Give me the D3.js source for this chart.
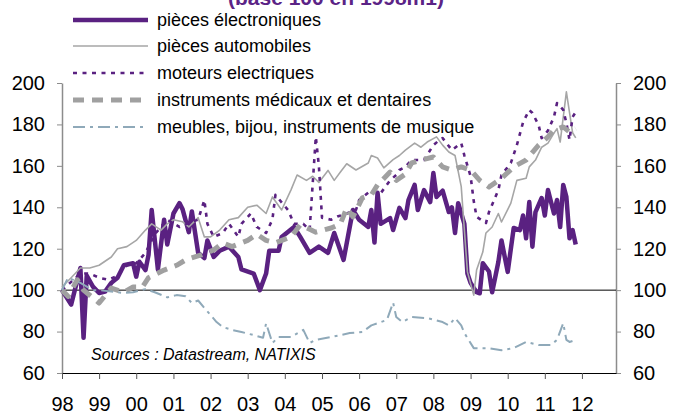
<!DOCTYPE html>
<html>
<head>
<meta charset="utf-8">
<script src="https://cdn.jsdelivr.net/npm/d3@7"></script>
<style>
    body { margin: 0; background: #fff; }
    svg { font-family: "Liberation Sans", Arial, sans-serif; display: block; }
</style>
</head>
<body>
<div id="chart"></div>
<script>
// --- data (monthly index values, base 100 in 1998) ---
const titleText = "(base 100 en 1998m1)";
const sourceText = "Sources : Datastream, NATIXIS";

const years = [1998, 1999, 2000, 2001, 2002, 2003, 2004, 2005, 2006, 2007, 2008, 2009, 2010, 2011, 2012];
const yearLabels = ["98", "99", "00", "01", "02", "03", "04", "05", "06", "07", "08", "09", "10", "11", "12"];
const yTicks = [60, 80, 100, 120, 140, 160, 180, 200];

const seriesNames = [
    "pièces électroniques",
    "pièces automobiles",
    "moteurs electriques",
    "instruments médicaux et dentaires",
    "meubles, bijou, instruments de musique"
];

const elecData = [
    ["1998-01", 100], ["1998-04", 93], ["1998-07", 110.7], ["1998-08", 77], ["1998-09", 107], ["1998-11", 101.7],
    ["1999-01", 98.6], ["1999-03", 99.3], ["1999-05", 103.5], ["1999-07", 106], ["1999-09", 112], ["1999-12", 113],
    ["2000-01", 106.5], ["2000-02", 113.7], ["2000-04", 109.7], ["2000-05", 117], ["2000-06", 138.7], ["2000-08", 110],
    ["2000-10", 134], ["2000-11", 122], ["2001-01", 137], ["2001-03", 142], ["2001-04", 139], ["2001-06", 128],
    ["2001-07", 138], ["2001-09", 118], ["2001-11", 115.5], ["2001-12", 124], ["2002-02", 116], ["2002-04", 119],
    ["2002-07", 121], ["2002-10", 116], ["2002-11", 110], ["2003-03", 108], ["2003-05", 100], ["2003-07", 108],
    ["2003-08", 119], ["2003-11", 119], ["2003-12", 125.7], ["2004-04", 130.5], ["2004-06", 125.7], ["2004-09", 118],
    ["2004-12", 121], ["2005-03", 118], ["2005-05", 127.6], ["2005-08", 114.6], ["2005-11", 138.7], ["2006-01", 134],
    ["2006-04", 130.5], ["2006-05", 138.7], ["2006-06", 123], ["2006-07", 147], ["2006-08", 132], ["2006-11", 134.8],
    ["2006-12", 129], ["2007-02", 139.7], ["2007-04", 134.8], ["2007-05", 143.5], ["2007-07", 150.8], ["2007-08", 138.7],
    ["2007-10", 148.3], ["2007-12", 142.5], ["2008-01", 156.5], ["2008-02", 145], ["2008-04", 148], ["2008-06", 137.7],
    ["2008-07", 140], ["2008-08", 127.6], ["2008-09", 142], ["2008-11", 132], ["2008-12", 108], ["2009-01", 103.5],
    ["2009-03", 99], ["2009-04", 98.5], ["2009-05", 113], ["2009-07", 109], ["2009-08", 99], ["2009-10", 113.6],
    ["2009-11", 124], ["2010-01", 108.8], ["2010-03", 130], ["2010-05", 129], ["2010-06", 136], ["2010-07", 125],
    ["2010-08", 142.5], ["2010-09", 121], ["2010-10", 137.7], ["2010-12", 144.5], ["2011-01", 136], ["2011-02", 148.3],
    ["2011-04", 137], ["2011-05", 143.5], ["2011-06", 130.5], ["2011-07", 150.8], ["2011-08", 145], ["2011-09", 125],
    ["2011-10", 129], ["2011-11", 122]
];

const autoData = [
    ["1998-01", 101.5], ["1998-04", 106], ["1998-07", 110.7], ["1998-10", 110.7], ["1999-01", 112], ["1999-05", 116],
    ["1999-07", 120], ["1999-10", 121], ["2000-01", 124], ["2000-04", 129], ["2000-06", 132], ["2000-09", 129],
    ["2000-11", 132], ["2001-01", 134], ["2001-04", 133], ["2001-06", 130.5], ["2001-09", 135], ["2001-11", 125.7],
    ["2002-01", 125.7], ["2002-04", 129], ["2002-07", 134], ["2002-10", 135], ["2003-01", 140], ["2003-04", 141],
    ["2003-07", 137], ["2003-09", 145], ["2003-12", 138.7], ["2004-03", 148.3], ["2004-05", 155.6], ["2004-08", 153],
    ["2004-10", 155], ["2004-12", 152], ["2005-03", 157.8], ["2005-05", 153], ["2005-07", 157], ["2005-09", 161],
    ["2005-12", 158], ["2006-04", 161.4], ["2006-05", 165], ["2006-07", 163.8], ["2006-09", 159], ["2006-12", 163],
    ["2007-02", 165], ["2007-04", 167.6], ["2007-07", 171], ["2007-09", 169], ["2007-11", 171.5], ["2008-02", 174],
    ["2008-04", 170], ["2008-06", 166.7], ["2008-08", 165], ["2008-10", 150], ["2008-11", 129], ["2008-12", 108.8],
    ["2009-02", 97.6], ["2009-03", 109.7], ["2009-05", 118.4], ["2009-06", 127.6], ["2009-08", 130.5], ["2009-10", 137],
    ["2009-11", 132.9], ["2010-02", 142], ["2010-04", 153], ["2010-07", 154], ["2010-08", 159.5], ["2010-10", 162.8],
    ["2010-12", 169], ["2011-02", 171], ["2011-04", 175.8], ["2011-05", 178], ["2011-06", 171.5], ["2011-08", 195.7],
    ["2011-10", 176], ["2011-11", 173.5]
];

const moteursData = [
    ["1998-01", 100], ["1998-04", 104], ["1998-07", 108], ["1998-10", 108], ["1999-01", 106], ["1999-04", 105],
    ["1999-07", 107], ["1999-10", 112], ["2000-01", 113], ["2000-04", 118], ["2000-07", 127], ["2000-11", 134],
    ["2001-03", 130.5], ["2001-07", 133], ["2001-09", 134], ["2001-11", 143.5], ["2001-12", 132], ["2002-02", 125.7],
    ["2002-05", 127.6], ["2002-07", 132], ["2002-10", 125.7], ["2002-11", 132], ["2003-02", 137], ["2003-04", 130.5],
    ["2003-07", 127.6], ["2003-09", 134], ["2003-10", 146], ["2004-02", 138.7], ["2004-04", 132], ["2004-07", 132],
    ["2004-09", 129], ["2004-11", 174], ["2004-12", 160], ["2005-01", 135], ["2005-04", 134], ["2005-06", 135.5],
    ["2005-09", 137], ["2005-12", 138.7], ["2006-01", 143.5], ["2006-05", 148.3], ["2006-08", 146.8], ["2006-11", 153],
    ["2007-01", 155.6], ["2007-02", 158], ["2007-04", 159.5], ["2007-06", 162.8], ["2007-10", 162.8], ["2008-01", 170],
    ["2008-03", 172.5], ["2008-04", 173.4], ["2008-07", 167.6], ["2008-10", 171], ["2008-11", 165], ["2009-01", 155],
    ["2009-02", 143], ["2009-03", 135.4], ["2009-06", 132.4], ["2009-07", 137.7], ["2009-10", 148.3], ["2009-11", 155.6],
    ["2010-02", 161.4], ["2010-04", 170], ["2010-06", 181], ["2010-08", 187], ["2010-09", 185.5], ["2010-11", 179.7],
    ["2010-12", 173.4], ["2011-02", 177], ["2011-04", 183.6], ["2011-05", 190.3], ["2011-07", 187], ["2011-08", 180.7],
    ["2011-09", 172.5], ["2011-10", 183.6], ["2011-11", 186]
];

const dentalData = [
    ["1998-01", 100], ["1998-03", 97], ["1998-06", 105], ["1998-08", 100], ["1999-01", 93.8], ["1999-05", 101],
    ["1999-09", 99], ["1999-12", 101.5], ["2000-03", 101.5], ["2000-05", 106], ["2000-10", 109.7], ["2001-02", 112],
    ["2001-05", 114.6], ["2001-10", 117], ["2002-02", 119.4], ["2002-05", 122.8], ["2002-08", 121], ["2003-01", 124],
    ["2003-04", 127], ["2003-07", 124], ["2003-10", 122.8], ["2004-03", 125.7], ["2004-06", 131.5], ["2004-11", 128],
    ["2005-04", 130], ["2005-07", 132], ["2005-09", 139.7], ["2005-11", 135.4], ["2006-02", 144.5], ["2006-05", 146],
    ["2006-07", 150.8], ["2006-11", 157], ["2007-01", 153], ["2007-04", 156], ["2007-06", 161.4], ["2007-09", 162.8],
    ["2008-01", 164.3], ["2008-04", 159.5], ["2008-07", 158], ["2008-10", 159.5], ["2009-01", 158], ["2009-04", 153],
    ["2009-07", 149.8], ["2009-11", 154], ["2010-03", 159.5], ["2010-07", 162.8], ["2010-11", 170], ["2011-02", 174],
    ["2011-04", 177.3], ["2011-07", 178.8], ["2011-09", 176.3], ["2011-11", 178]
];

const meublesData = [
    ["1998-01", 100], ["1998-03", 106], ["1998-07", 103.5], ["1998-11", 100], ["1999-01", 100], ["1999-07", 99],
    ["1999-09", 98.6], ["1999-12", 99], ["2000-04", 100.5], ["2000-07", 99], ["2000-11", 96.5], ["2001-02", 97.6],
    ["2001-05", 97], ["2001-07", 93.8], ["2001-09", 95], ["2001-11", 91.4], ["2002-01", 88], ["2002-03", 84.6],
    ["2002-05", 82.2], ["2002-08", 80.8], ["2002-11", 79.8], ["2003-03", 78.3], ["2003-06", 77], ["2003-07", 84],
    ["2003-09", 74.5], ["2003-11", 77.4], ["2004-03", 77.4], ["2004-07", 80.8], ["2004-09", 74.5], ["2004-11", 76],
    ["2005-04", 77.4], ["2005-07", 78.3], ["2005-10", 79.3], ["2006-02", 79.8], ["2006-05", 83], ["2006-07", 84],
    ["2006-10", 85.6], ["2006-12", 94], ["2007-01", 87], ["2007-03", 84.6], ["2007-06", 87], ["2007-11", 86.5],
    ["2008-04", 84.6], ["2008-06", 83], ["2008-08", 86.5], ["2008-10", 83], ["2008-11", 79.3], ["2009-02", 72],
    ["2009-07", 72], ["2009-11", 71], ["2010-03", 72], ["2010-07", 75], ["2010-11", 73.5], ["2011-03", 73.5],
    ["2011-05", 76], ["2011-07", 84], ["2011-08", 76], ["2011-09", 75], ["2011-11", 76]
];

// --- drawing ---
const width = 684, height = 414;
const plot = { left: 62, right: 616, top: 83, bottom: 373 };
const fontFamily = '"Liberation Sans", Arial, sans-serif';
const parseMonth = d3.timeParse("%Y-%m");

const svg = d3.select("#chart").append("svg")
    .attr("width", width)
    .attr("height", height);

const x = d3.scaleTime()
    .domain([new Date(1998, 0, 1), new Date(2012, 11, 1)])
    .range([plot.left, plot.right]);
const y = d3.scaleLinear().domain([60, 200]).range([plot.bottom, plot.top]);

// title (cut off at top edge)
svg.append("text")
    .attr("x", 228).attr("y", 5)
    .attr("font-size", 21).attr("font-weight", "bold")
    .attr("fill", "#5b2386")
    .text(titleText);

// left axis
const yLeft = svg.append("g")
    .attr("transform", `translate(${plot.left},0)`)
    .call(d3.axisLeft(y).tickValues(yTicks).tickSize(5).tickSizeOuter(0).tickPadding(12));
// right axis
const yRight = svg.append("g")
    .attr("transform", `translate(${plot.right},0)`)
    .call(d3.axisRight(y).tickValues(yTicks).tickSize(5).tickSizeOuter(0).tickPadding(12));

[yLeft, yRight].forEach(g => {
    g.select(".domain").attr("stroke", "#8c8c8c").attr("stroke-width", 1.5);
    g.selectAll(".tick line").attr("stroke", "#8c8c8c");
    g.selectAll(".tick text").attr("font-size", 20).attr("fill", "#000").attr("font-family", fontFamily);
});

// bottom axis
const yearIndex = d3.scaleOrdinal().domain(years).range(yearLabels);
const xAxis = svg.append("g")
    .attr("transform", `translate(0,${plot.bottom})`)
    .call(d3.axisBottom(x)
        .tickValues(years.map(yr => new Date(yr, 0, 1)))
        .tickFormat(d => yearIndex(d.getFullYear()))
        .tickSize(6).tickSizeOuter(0).tickPadding(18));
xAxis.select(".domain").attr("stroke", "#000");
xAxis.selectAll(".tick line").attr("stroke", "#555");
xAxis.selectAll(".tick text").attr("font-size", 20).attr("fill", "#000").attr("font-family", fontFamily);

// reference line at 100
svg.append("line")
    .attr("x1", plot.left).attr("x2", plot.right)
    .attr("y1", y(100)).attr("y2", y(100))
    .attr("stroke", "#000").attr("stroke-width", 1);

const styles = [
    { data: elecData, color: "#5a2181", width: 4.5, dash: null },
    { data: autoData, color: "#a6a6a6", width: 1.6, dash: null },
    { data: moteursData, color: "#5a2181", width: 2.6, dash: "4,5.5" },
    { data: dentalData, color: "#a0a0a0", width: 5, dash: "11,8" },
    { data: meublesData, color: "#8fa9b9", width: 2, dash: "12,5,3,5" }
];

const line = d3.line()
    .x(d => x(parseMonth(d[0])))
    .y(d => y(d[1]));

styles.forEach(s => {
    svg.append("path")
        .datum(s.data)
        .attr("fill", "none")
        .attr("stroke", s.color)
        .attr("stroke-width", s.width)
        .attr("stroke-dasharray", s.dash)
        .attr("stroke-linejoin", "round")
        .attr("d", line);
});

// legend
const legendRows = [20, 46, 73, 100, 127];
const legend = svg.append("g");
styles.forEach((s, i) => {
    legend.append("line")
        .attr("x1", 73).attr("x2", 148)
        .attr("y1", legendRows[i]).attr("y2", legendRows[i])
        .attr("stroke", s.color)
        .attr("stroke-width", s.width)
        .attr("stroke-dasharray", s.dash);
    legend.append("text")
        .attr("x", 157).attr("y", legendRows[i] + 6)
        .attr("font-size", 18)
        .attr("fill", "#000")
        .text(seriesNames[i]);
});

// source note
svg.append("text")
    .attr("x", 91).attr("y", 360)
    .attr("font-size", 16).attr("font-style", "italic")
    .attr("fill", "#000")
    .text(sourceText);
</script>
</body>
</html>
